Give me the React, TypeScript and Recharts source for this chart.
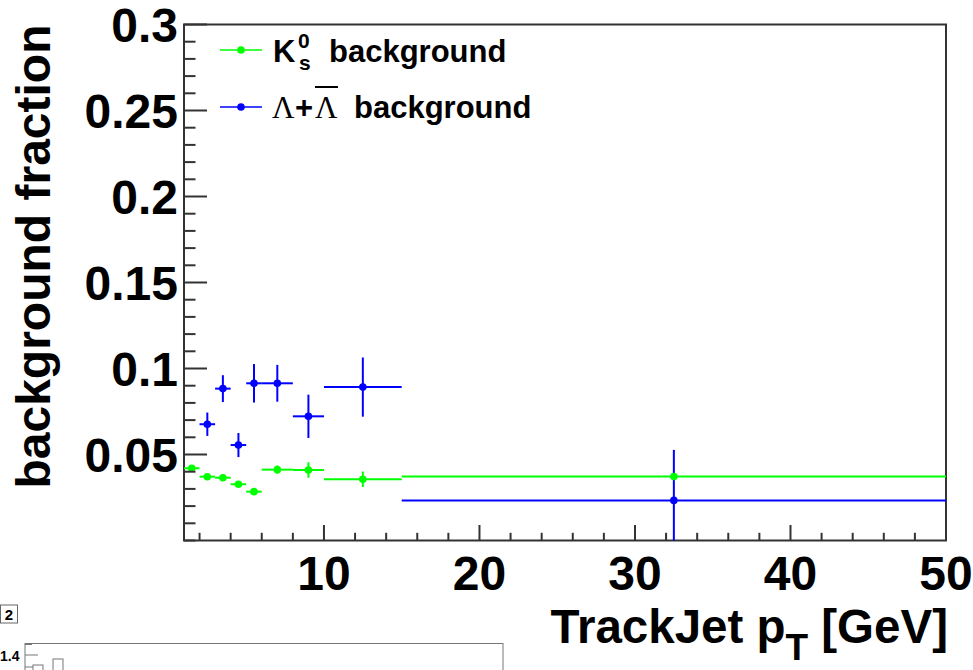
import React from 'react';
import { ScatterChart, Scatter, XAxis, YAxis, ErrorBar, ReferenceArea, Legend, Label } from 'recharts';

// bins in TrackJet pT [GeV]
const k0BinCenters = [1.5, 2.5, 3.5, 4.5, 5.5, 7, 9, 12.5, 32.5];
const k0BinHalfWidths = [0.5, 0.5, 0.5, 0.5, 0.5, 1, 1, 2.5, 17.5];
const k0Fractions = [0.042, 0.0371, 0.0365, 0.0327, 0.0284, 0.0412, 0.041, 0.0356, 0.0372];
const k0Errors = [0.0012, 0.001, 0.001, 0.001, 0.001, 0.0024, 0.0045, 0.0045, 0.0023];

const lambdaBinCenters = [2.5, 3.5, 4.5, 5.5, 7, 9, 12.5, 32.5];
const lambdaBinHalfWidths = [0.5, 0.5, 0.5, 0.5, 1, 1, 2.5, 17.5];
const lambdaFractions = [0.0676, 0.0883, 0.0555, 0.0914, 0.0914, 0.0722, 0.0892, 0.0233];
const lambdaErrors = [0.0068, 0.0078, 0.007, 0.0112, 0.0107, 0.0126, 0.0172, 0.0294];

const xMajorTicks = [10, 20, 30, 40, 50];
const xMajorLabels = ['10', '20', '30', '40', '50'];
const xMinorTicks = [2, 4, 6, 8, 12, 14, 16, 18, 22, 24, 26, 28, 32, 34, 36, 38, 42, 44, 46, 48];

const yMajorTicks = [0.05, 0.1, 0.15, 0.2, 0.25, 0.3];
const yMajorLabels = ['0.05', '0.1', '0.15', '0.2', '0.25', '0.3'];
const yMinorTicks = [
  0, 0.01, 0.02, 0.03, 0.04, 0.06, 0.07, 0.08, 0.09, 0.11, 0.12, 0.13, 0.14,
  0.16, 0.17, 0.18, 0.19, 0.21, 0.22, 0.23, 0.24, 0.26, 0.27, 0.28, 0.29,
];

const GREEN = '#00ff00';
const BLUE = '#0000ff';
const AXIS = '#333';
const FONT = '"Liberation Sans", Arial, Helvetica, sans-serif';
const SERIF = '"Liberation Serif", "DejaVu Serif", serif';

// error bars stop at the frame bottom (y = 0), like ROOT clips them
const k0Data = k0BinCenters.map((x, i) => ({
  x,
  y: k0Fractions[i],
  ex: k0BinHalfWidths[i],
  ey: [Math.min(k0Errors[i], k0Fractions[i]), k0Errors[i]],
}));
const lambdaData = lambdaBinCenters.map((x, i) => ({
  x,
  y: lambdaFractions[i],
  ex: lambdaBinHalfWidths[i],
  ey: [Math.min(lambdaErrors[i], lambdaFractions[i]), lambdaErrors[i]],
}));

const xTicks = [...xMinorTicks, ...xMajorTicks].sort((a, b) => a - b);
const yTicks = [...yMinorTicks, ...yMajorTicks].sort((a, b) => a - b);

const findIdx = (list: number[], v: number) => list.findIndex((t) => Math.abs(t - v) < 1e-6);

const XTick = (props: any) => {
  const { x, y, payload } = props;
  const idx = findIdx(xMajorTicks, payload.value);
  const major = idx >= 0;
  return (
    <g>
      <line x1={x} x2={x} y1={y} y2={y - (major ? 15.5 : 7.7)} stroke={AXIS} strokeWidth={2} />
      {major && (
        <text x={x} y={y + 49.5} textAnchor="middle" fontFamily={FONT} fontWeight="bold" fontSize={48} fill="#000">
          {xMajorLabels[idx]}
        </text>
      )}
    </g>
  );
};

const YTick = (props: any) => {
  const { x, y, payload } = props;
  const idx = findIdx(yMajorTicks, payload.value);
  const major = idx >= 0;
  return (
    <g>
      <line x1={x} x2={x + (major ? 23 : 11.5)} y1={y} y2={y} stroke={AXIS} strokeWidth={2} />
      {major && (
        <text x={x - 6} y={y + 17} textAnchor="end" fontFamily={FONT} fontWeight="bold" fontSize={48} fill="#000">
          {yMajorLabels[idx]}
        </text>
      )}
    </g>
  );
};

const XTitle = (props: any) => {
  const vb = props.viewBox || { x: 184, y: 540.5, width: 762, height: 129.5 };
  return (
    <text x={vb.x + vb.width + 2} y={vb.y + 102.5} textAnchor="end" fontFamily={FONT} fontWeight="bold" fontSize={47.5} fill="#000">
      TrackJet p<tspan dy={17} fontSize={37}>T</tspan>
      <tspan dy={-17}> [GeV]</tspan>
    </text>
  );
};

const YTitle = (props: any) => {
  const vb = props.viewBox || { x: 0, y: 24.5, width: 184, height: 516 };
  return (
    <text
      transform={`translate(${vb.x + 50}, ${vb.y}) rotate(-90)`}
      textAnchor="end"
      fontFamily={FONT}
      fontWeight="bold"
      fontSize={48}
      fill="#000"
    >
      background fraction
    </text>
  );
};

const dotShape = (color: string) => (p: any) => <circle cx={p.cx} cy={p.cy} r={3.8} fill={color} />;

const LegendBox = () => (
  <svg width={340} height={110} style={{ display: 'block' }}>
    <line x1={5} x2={47} y1={20} y2={20} stroke={GREEN} strokeWidth={1.5} />
    <circle cx={26} cy={20} r={3.8} fill={GREEN} />
    <text x={58} y={32} fontFamily={FONT} fontWeight="bold" fontSize={31}>K</text>
    <text x={83} y={18} fontFamily={FONT} fontWeight="bold" fontSize={21}>0</text>
    <text x={84} y={40} fontFamily={FONT} fontWeight="bold" fontSize={21}>s</text>
    <text x={114} y={32} fontFamily={FONT} fontWeight="bold" fontSize={31}>background</text>

    <line x1={5} x2={47} y1={77} y2={77} stroke={BLUE} strokeWidth={1.5} />
    <circle cx={26} cy={77} r={3.8} fill={BLUE} />
    <text x={57} y={88} fontFamily={SERIF} fontSize={31}>Λ</text>
    <text x={80} y={88} fontFamily={FONT} fontWeight="bold" fontSize={31}>+</text>
    <text x={100} y={88} fontFamily={SERIF} fontSize={31}>Λ</text>
    <line x1={100} x2={123} y1={57} y2={57} stroke="#000" strokeWidth={2} />
    <text x={139} y={88} fontFamily={FONT} fontWeight="bold" fontSize={31}>background</text>
  </svg>
);

export default function App() {
  return (
    <div style={{ position: 'absolute', left: 0, top: 0, width: 973, height: 670, overflow: 'hidden', background: '#fff' }}>
      <ScatterChart width={973} height={670} margin={{ top: 24.5, right: 27, bottom: 0, left: 0 }}>
        <XAxis
          type="number"
          dataKey="x"
          domain={[1, 50]}
          ticks={xTicks}
          interval={0}
          tick={(p: any) => <XTick {...p} />}
          tickLine={false}
          axisLine={false}
          tickSize={0}
          tickMargin={0}
          height={129.5}
          allowDataOverflow
        >
          <Label content={XTitle} />
        </XAxis>
        <YAxis
          type="number"
          dataKey="y"
          domain={[0, 0.3]}
          ticks={yTicks}
          interval={0}
          tick={(p: any) => <YTick {...p} />}
          tickLine={false}
          axisLine={false}
          tickSize={0}
          tickMargin={0}
          width={184}
          allowDataOverflow
        >
          <Label content={YTitle} />
        </YAxis>
        <ReferenceArea x1={1} x2={50} y1={0} y2={0.3} fill="none" stroke={AXIS} strokeWidth={2} fillOpacity={0} />
        <Scatter data={k0Data} fill={GREEN} shape={dotShape(GREEN)} isAnimationActive={false}>
          <ErrorBar dataKey="ex" direction="x" width={0} stroke={GREEN} strokeWidth={2} />
          <ErrorBar dataKey="ey" direction="y" width={0} stroke={GREEN} strokeWidth={2} />
        </Scatter>
        <Scatter data={lambdaData} fill={BLUE} shape={dotShape(BLUE)} isAnimationActive={false}>
          <ErrorBar dataKey="ex" direction="x" width={0} stroke={BLUE} strokeWidth={2} />
          <ErrorBar dataKey="ey" direction="y" width={0} stroke={BLUE} strokeWidth={2} />
        </Scatter>
        <Legend
          layout="horizontal"
          verticalAlign="middle"
          align="center"
          content={() => <LegendBox />}
          wrapperStyle={{ position: 'absolute', left: 215, top: 30, width: 340, height: 110 }}
        />
      </ScatterChart>

      {/* piece of the next pad peeking in at the bottom left */}
      <svg width={520} height={70} style={{ position: 'absolute', left: 0, top: 600 }}>
        <rect x={0.5} y={5} width={17} height={18} fill="#fff" stroke="#666" strokeWidth={1} />
        <text x={9} y={20} textAnchor="middle" fontFamily={FONT} fontWeight="bold" fontSize={15}>2</text>
        <text x={0} y={61} fontFamily={FONT} fontWeight="bold" fontSize={14}>1.4</text>
        <rect x={25} y={43.5} width={478} height={40} fill="none" stroke="#777" strokeWidth={1} />
        <line x1={25} x2={32} y1={44.5} y2={44.5} stroke="#777" />
        <line x1={25} x2={38} y1={55} y2={55} stroke="#777" />
        <line x1={25} x2={33} y1={67} y2={67} stroke="#777" />
        <rect x={33} y={65} width={10} height={10} fill="none" stroke="#777" />
        <rect x={53} y={59} width={10} height={16} fill="none" stroke="#777" />
      </svg>
    </div>
  );
}
